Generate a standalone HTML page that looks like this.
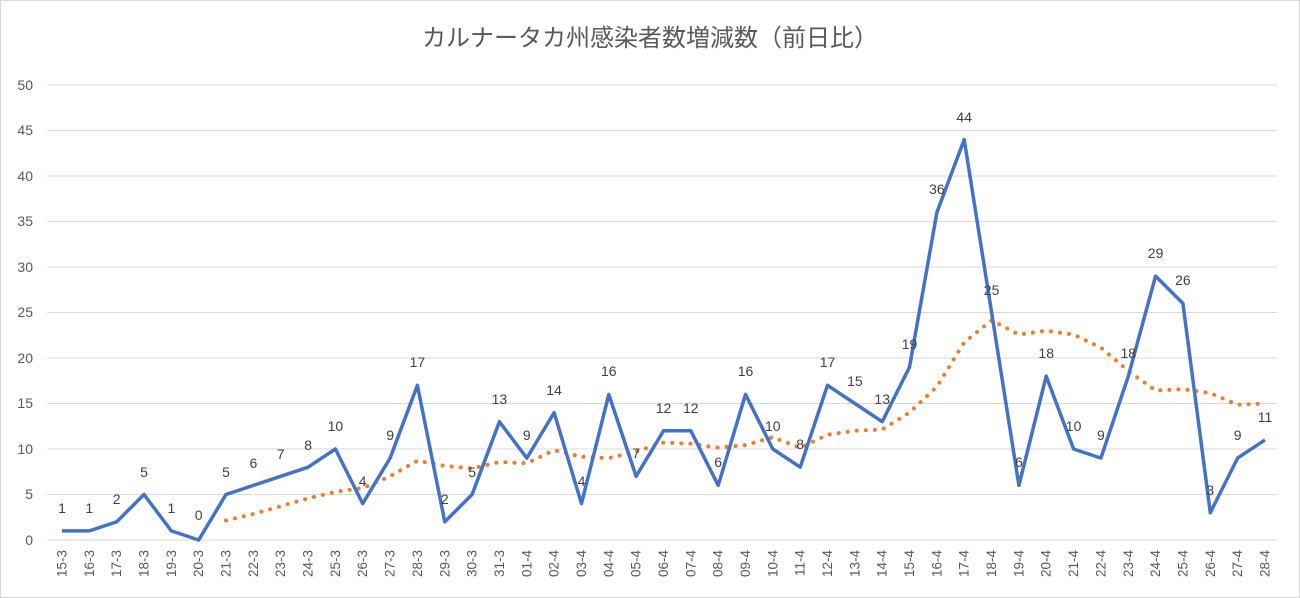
<!DOCTYPE html>
<html><head><meta charset="utf-8"><style>body{margin:0;background:#fff}svg{display:block}</style></head><body>
<svg width="1300" height="598" xmlns="http://www.w3.org/2000/svg" font-family="'Liberation Sans','Noto Sans CJK JP',sans-serif">
<rect x="0.5" y="0.5" width="1299" height="597" fill="#fff" stroke="#d9d9d9"/>
<text x="650" y="46" text-anchor="middle" font-size="24" fill="#595959">カルナータカ州感染者数増減数（前日比）</text>
<g stroke="#d9d9d9" stroke-width="1">
<line x1="47" x2="1277" y1="540" y2="540"/><line x1="47" x2="1277" y1="494.5" y2="494.5"/><line x1="47" x2="1277" y1="449" y2="449"/><line x1="47" x2="1277" y1="403.5" y2="403.5"/><line x1="47" x2="1277" y1="358" y2="358"/><line x1="47" x2="1277" y1="312.5" y2="312.5"/><line x1="47" x2="1277" y1="267" y2="267"/><line x1="47" x2="1277" y1="221.5" y2="221.5"/><line x1="47" x2="1277" y1="176" y2="176"/><line x1="47" x2="1277" y1="130.5" y2="130.5"/><line x1="47" x2="1277" y1="85" y2="85"/>
</g>
<g font-size="14" fill="#595959" text-anchor="end">
<text x="33" y="545">0</text><text x="33" y="499">5</text><text x="33" y="454">10</text><text x="33" y="408">15</text><text x="33" y="363">20</text><text x="33" y="317">25</text><text x="33" y="272">30</text><text x="33" y="226">35</text><text x="33" y="181">40</text><text x="33" y="135">45</text><text x="33" y="90">50</text>
</g>
<g font-size="13.5" fill="#595959" text-anchor="end">
<text transform="translate(66.5,550) rotate(-90)">15-3</text><text transform="translate(93.8,550) rotate(-90)">16-3</text><text transform="translate(121.2,550) rotate(-90)">17-3</text><text transform="translate(148.5,550) rotate(-90)">18-3</text><text transform="translate(175.9,550) rotate(-90)">19-3</text><text transform="translate(203.2,550) rotate(-90)">20-3</text><text transform="translate(230.5,550) rotate(-90)">21-3</text><text transform="translate(257.9,550) rotate(-90)">22-3</text><text transform="translate(285.2,550) rotate(-90)">23-3</text><text transform="translate(312.6,550) rotate(-90)">24-3</text><text transform="translate(339.9,550) rotate(-90)">25-3</text><text transform="translate(367.2,550) rotate(-90)">26-3</text><text transform="translate(394.6,550) rotate(-90)">27-3</text><text transform="translate(421.9,550) rotate(-90)">28-3</text><text transform="translate(449.3,550) rotate(-90)">29-3</text><text transform="translate(476.6,550) rotate(-90)">30-3</text><text transform="translate(503.9,550) rotate(-90)">31-3</text><text transform="translate(531.3,550) rotate(-90)">01-4</text><text transform="translate(558.6,550) rotate(-90)">02-4</text><text transform="translate(586,550) rotate(-90)">03-4</text><text transform="translate(613.3,550) rotate(-90)">04-4</text><text transform="translate(640.6,550) rotate(-90)">05-4</text><text transform="translate(668,550) rotate(-90)">06-4</text><text transform="translate(695.3,550) rotate(-90)">07-4</text><text transform="translate(722.7,550) rotate(-90)">08-4</text><text transform="translate(750,550) rotate(-90)">09-4</text><text transform="translate(777.3,550) rotate(-90)">10-4</text><text transform="translate(804.7,550) rotate(-90)">11-4</text><text transform="translate(832,550) rotate(-90)">12-4</text><text transform="translate(859.4,550) rotate(-90)">13-4</text><text transform="translate(886.7,550) rotate(-90)">14-4</text><text transform="translate(914,550) rotate(-90)">15-4</text><text transform="translate(941.4,550) rotate(-90)">16-4</text><text transform="translate(968.7,550) rotate(-90)">17-4</text><text transform="translate(996.1,550) rotate(-90)">18-4</text><text transform="translate(1023.4,550) rotate(-90)">19-4</text><text transform="translate(1050.7,550) rotate(-90)">20-4</text><text transform="translate(1078.1,550) rotate(-90)">21-4</text><text transform="translate(1105.4,550) rotate(-90)">22-4</text><text transform="translate(1132.8,550) rotate(-90)">23-4</text><text transform="translate(1160.1,550) rotate(-90)">24-4</text><text transform="translate(1187.4,550) rotate(-90)">25-4</text><text transform="translate(1214.8,550) rotate(-90)">26-4</text><text transform="translate(1242.1,550) rotate(-90)">27-4</text><text transform="translate(1269.5,550) rotate(-90)">28-4</text>
</g>
<polyline fill="none" stroke="#ed7d31" stroke-width="4" stroke-dasharray="0.1 9" stroke-linecap="round" stroke-linejoin="round" points="226,520.5 253.4,514 280.7,506.2 308.1,498.4 335.4,491.9 362.7,488 390.1,476.3 417.4,460.7 444.8,465.9 472.1,468.5 499.4,462 526.8,463.3 554.1,450.3 581.5,456.8 608.8,458.1 636.1,451.6 663.5,442.5 690.8,443.8 718.2,447.7 745.5,445.1 772.8,437.3 800.2,447.7 827.5,434.7 854.9,430.8 882.2,429.5 909.5,412.6 936.9,386.6 964.2,342.4 991.6,320.3 1018.9,334.6 1046.2,330.7 1073.6,334.6 1100.9,347.6 1128.3,371 1155.6,390.5 1182.9,389.2 1210.3,393.1 1237.6,404.8 1265,403.5"/>
<polyline fill="none" stroke="#4472c4" stroke-width="3.5" stroke-linejoin="round" points="62,530.9 89.3,530.9 116.7,521.8 144,494.5 171.4,530.9 198.7,540 226,494.5 253.4,485.4 280.7,476.3 308.1,467.2 335.4,449 362.7,503.6 390.1,458.1 417.4,385.3 444.8,521.8 472.1,494.5 499.4,421.7 526.8,458.1 554.1,412.6 581.5,503.6 608.8,394.4 636.1,476.3 663.5,430.8 690.8,430.8 718.2,485.4 745.5,394.4 772.8,449 800.2,467.2 827.5,385.3 854.9,403.5 882.2,421.7 909.5,367.1 936.9,212.4 964.2,139.6 991.6,312.5 1018.9,485.4 1046.2,376.2 1073.6,449 1100.9,458.1 1128.3,376.2 1155.6,276.1 1182.9,303.4 1210.3,512.7 1237.6,458.1 1265,439.9"/>
<g font-size="14" fill="#404040" text-anchor="middle">
<text x="62" y="513">1</text><text x="89.3" y="513">1</text><text x="116.7" y="504">2</text><text x="144" y="477">5</text><text x="171.4" y="513">1</text><text x="198.7" y="520">0</text><text x="226" y="477">5</text><text x="253.4" y="468">6</text><text x="280.7" y="459">7</text><text x="308.1" y="450">8</text><text x="335.4" y="431">10</text><text x="362.7" y="486">4</text><text x="390.1" y="440">9</text><text x="417.4" y="367">17</text><text x="444.8" y="504">2</text><text x="472.1" y="477">5</text><text x="499.4" y="404">13</text><text x="526.8" y="440">9</text><text x="554.1" y="395">14</text><text x="581.5" y="486">4</text><text x="608.8" y="376">16</text><text x="636.1" y="458">7</text><text x="663.5" y="413">12</text><text x="690.8" y="413">12</text><text x="718.2" y="467">6</text><text x="745.5" y="376">16</text><text x="772.8" y="431">10</text><text x="800.2" y="449">8</text><text x="827.5" y="367">17</text><text x="854.9" y="386">15</text><text x="882.2" y="404">13</text><text x="909.5" y="349">19</text><text x="936.9" y="194">36</text><text x="964.2" y="122">44</text><text x="991.6" y="295">25</text><text x="1018.9" y="467">6</text><text x="1046.2" y="358">18</text><text x="1073.6" y="431">10</text><text x="1100.9" y="440">9</text><text x="1128.3" y="358">18</text><text x="1155.6" y="258">29</text><text x="1182.9" y="285">26</text><text x="1210.3" y="495">3</text><text x="1237.6" y="440">9</text><text x="1265" y="422">11</text>
</g>
</svg>
</body></html>
